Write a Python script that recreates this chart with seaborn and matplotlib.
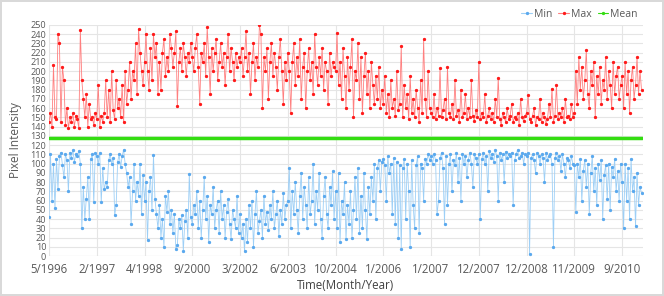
import numpy as np
import pandas as pd
import seaborn as sns
import matplotlib.pyplot as plt

# Tick labels (category axis, one label every 32 samples)
tick_labels = ["5/1996", "2/1997", "4/1998", "9/2000", "3/2002", "6/2003", "10/2004",
               "1/2006", "1/2007", "12/2007", "12/2008", "11/2009", "9/2010"]

# Min pixel intensity
min_vals = [
    42, 110, 60, 100, 52, 105, 72, 108, 112, 98, 85, 110, 104, 70, 112, 106, 115, 102, 110, 108, 114, 100, 30, 75, 40, 62, 85, 40, 105, 110, 58, 112,
    108, 100, 112, 58, 95, 72, 80, 75, 104, 110, 100, 106, 44, 55, 102, 110, 96, 108, 115, 100, 90, 75, 85, 35, 70, 100, 60, 80, 65, 100, 45, 88,
    60, 80, 17, 70, 85, 50, 109, 62, 45, 30, 55, 20, 40, 10, 65, 48, 70, 35, 50, 25, 45, 8, 12, 40, 30, 44, 5, 38, 50, 20, 89, 42,
    35, 55, 45, 70, 30, 60, 20, 50, 85, 40, 65, 15, 55, 45, 75, 30, 50, 60, 25, 70, 40, 55, 20, 48, 62, 35, 18, 50, 40, 30, 65, 25,
    45, 20, 35, 5, 40, 15, 55, 30, 60, 10, 45, 70, 25, 38, 50, 20, 65, 35, 48, 28, 55, 40, 70, 30, 45, 60, 22, 50, 35, 68, 40, 55,
    60, 95, 30, 70, 45, 80, 50, 25, 65, 90, 40, 75, 55, 30, 85, 45, 60, 100, 35, 70, 50, 90, 40, 20, 65, 85, 45, 30, 75, 55, 92, 40,
    70, 30, 90, 15, 60, 45, 80, 18, 55, 35, 70, 20, 50, 85, 40, 95, 25, 65, 30, 90, 50, 18, 75, 45, 85, 60, 100, 40, 95, 104, 70, 102,
    105, 98, 60, 108, 90, 100, 45, 106, 35, 102, 20, 98, 8, 95, 105, 40, 100, 70, 10, 104, 55, 30, 98, 108, 25, 100, 95, 60, 105, 100, 110, 104,
    108, 100, 110, 104, 45, 60, 106, 112, 95, 35, 108, 55, 100, 110, 70, 104, 98, 112, 80, 106, 60, 110, 100, 108, 85, 104, 112, 100, 75, 110, 106, 100,
    110, 40, 105, 112, 100, 108, 70, 114, 106, 110, 102, 115, 108, 60, 112, 104, 110, 80, 113, 106, 110, 108, 112, 55, 104, 110, 115, 106, 108, 112, 100, 110,
    108, 112, 2, 106, 110, 104, 90, 112, 108, 100, 110, 106, 80, 112, 104, 108, 110, 100, 10, 106, 112, 104, 108, 92, 110, 100, 85, 106, 104, 95, 108, 100,
    98, 48, 100, 85, 105, 60, 92, 104, 75, 100, 45, 90, 108, 70, 95, 55, 100, 82, 104, 40, 88, 98, 62, 100, 50, 96, 85, 105, 70, 92, 60, 100,
    80, 30, 100, 60, 95, 40, 105, 70, 85, 32, 90, 55, 75, 68,
]

# Max pixel intensity
max_vals = [
    145, 155, 140, 207, 150, 148, 240, 230, 145, 205, 190, 142, 160, 138, 150, 145, 155, 140, 152, 148, 138, 245, 190, 170, 150, 175, 140, 165, 148, 150, 142, 155,
    148, 185, 140, 152, 145, 155, 190, 150, 180, 145, 200, 158, 148, 190, 160, 170, 150, 185, 145, 200, 165, 180, 210, 170, 200, 190, 230, 175, 246, 220, 200, 185,
    210, 240, 200, 180, 225, 190, 240, 215, 230, 175, 210, 180, 220, 235, 195, 215, 200, 240, 225, 205, 220, 243, 162, 210, 225, 200, 230, 215, 195, 220, 210, 230,
    215, 200, 225, 240, 205, 165, 220, 210, 230, 195, 248, 215, 175, 225, 200, 220, 235, 190, 210, 230, 205, 220, 185, 215, 240, 200, 225, 210, 190, 220, 205, 215,
    210, 225, 195, 215, 243, 200, 220, 175, 210, 230, 190, 215, 205, 250, 240, 160, 215, 200, 225, 170, 210, 230, 195, 220, 205, 180, 215, 235, 200, 165, 210, 190,
    220, 200, 155, 210, 230, 185, 215, 195, 235, 170, 205, 220, 160, 200, 225, 190, 210, 175, 240, 205, 185, 215, 195, 225, 180, 210, 200, 165, 220, 195, 210, 205,
    200, 241, 185, 210, 170, 225, 195, 160, 215, 180, 205, 235, 150, 200, 190, 230, 170, 215, 155, 195, 220, 175, 200, 160, 210, 185, 165, 195, 170, 205, 160, 180,
    165, 195, 155, 175, 150, 190, 160, 170, 152, 200, 158, 165, 227, 150, 185, 160, 175, 148, 195, 155, 170, 150, 180, 160, 145, 190, 155, 235, 170, 150, 200, 160,
    155, 150, 175, 148, 160, 152, 203, 150, 158, 170, 148, 205, 155, 150, 165, 148, 190, 152, 158, 145, 180, 150, 155, 175, 148, 160, 150, 190, 152, 146, 158, 150,
    210, 148, 155, 150, 175, 145, 152, 160, 148, 155, 145, 170, 150, 193, 148, 142, 155, 150, 145, 160, 148, 152, 165, 145, 150, 148, 155, 142, 170, 150, 146, 152,
    155, 174, 148, 145, 152, 160, 142, 150, 148, 170, 145, 155, 150, 143, 148, 165, 150, 181, 145, 152, 185, 148, 155, 150, 160, 145, 170, 150, 152, 148, 165, 150,
    155, 200, 165, 215, 180, 205, 170, 190, 223, 175, 160, 200, 185, 210, 150, 195, 175, 205, 165, 190, 180, 215, 170, 200, 185, 160, 210, 175, 195, 205, 170, 185,
    195, 160, 210, 175, 200, 155, 190, 205, 170, 185, 215, 175, 200, 180,
]

mean_value = 128
step = 32

n = len(min_vals)
df = pd.DataFrame({
    "idx": np.arange(n),
    "Min": min_vals,
    "Max": max_vals,
    "Mean": [mean_value] * n,
})

sns.set_theme(style="whitegrid")
plt.rcParams["font.family"] = ["Open Sans", "DejaVu Sans"]

fig = plt.figure(figsize=(6.64, 2.96), dpi=100)
fig.patch.set_edgecolor("#d9d9d9")
fig.patch.set_linewidth(1.5)
ax = fig.add_axes([49 / 664, 40 / 296, 594 / 664, 231 / 296])

styles = {
    "Min": dict(color="#9dcff6", mfc="#5aa9ee", lw=0.6),
    "Max": dict(color="#ff7f7f", mfc="#ff1a1a", lw=0.6),
    "Mean": dict(color="#33dd11", mfc="#33dd11", lw=2.5),
}
for name in ["Min", "Max", "Mean"]:
    st = styles[name]
    sns.lineplot(data=df, x="idx", y=name, ax=ax, color=st["color"], lw=st["lw"],
                 marker="o" if name != "Mean" else None, markersize=1.6,
                 markerfacecolor=st["mfc"], markeredgecolor=st["mfc"], label=name)

ax.set_xlim(0, n)
ax.set_ylim(0, 250)
ax.set_yticks(range(0, 251, 10))
ax.set_xticks(np.arange(len(tick_labels)) * step)
ax.set_xticklabels(tick_labels)
ax.tick_params(axis="y", labelsize=6.6, colors="#595959", pad=2, length=0)
ax.tick_params(axis="x", labelsize=8.3, colors="#595959", pad=5, length=0)
ax.grid(True, color="#e5e5e5", lw=0.8)
for s in ax.spines.values():
    s.set_visible(False)
ax.axhline(0, color="#d9d9d9", lw=0.8)

ax.set_xlabel("Time(Month/Year)", fontsize=8.3, color="#404040", labelpad=2)
ax.set_ylabel("Pixel Intensity", fontsize=8.5, color="#595959", labelpad=6)

leg = ax.legend(loc="lower right", bbox_to_anchor=(1.0, 1.0), ncol=3, frameon=False,
                fontsize=7.5, handlelength=1.0, handletextpad=0.2, columnspacing=0.6,
                borderaxespad=0.1)
for t in leg.get_texts():
    t.set_color("#595959")
for h in leg.legend_handles:
    h.set_linewidth(0.8)
    h.set_marker("o")
    h.set_markersize(1.6)

fig.savefig("out.png", dpi=100)
